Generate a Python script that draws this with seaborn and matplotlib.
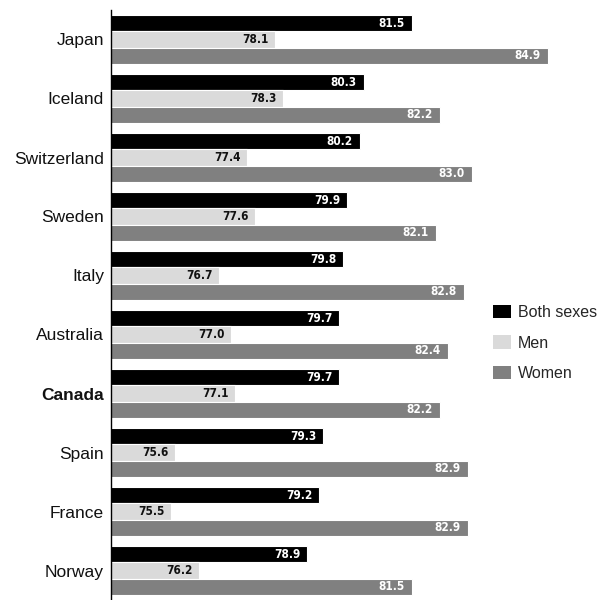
import matplotlib
matplotlib.use("Agg")
import matplotlib.pyplot as plt
from matplotlib.patches import Patch
import seaborn as sns
import pandas as pd

countries = ["Japan", "Iceland", "Switzerland", "Sweden", "Italy",
             "Australia", "Canada", "Spain", "France", "Norway"]
both_sexes = [81.5, 80.3, 80.2, 79.9, 79.8, 79.7, 79.7, 79.3, 79.2, 78.9]
men = [78.1, 78.3, 77.4, 77.6, 76.7, 77.0, 77.1, 75.6, 75.5, 76.2]
women = [84.9, 82.2, 83.0, 82.1, 82.8, 82.4, 82.2, 82.9, 82.9, 81.5]
series = ["Both sexes", "Men", "Women"]
colors = ["#000000", "#dadada", "#808080"]
label_colors = ["white", "#111111", "white"]

df = pd.DataFrame({
    "country": countries * 3,
    "group": [s for s in series for _ in countries],
    "value": both_sexes + men + women,
})

sns.set_theme(style="white")
plt.rcParams["font.family"] = ["Liberation Sans", "DejaVu Sans"]

fig = plt.figure(figsize=(6, 6), dpi=100)
ax = fig.add_axes([111 / 600, 0.0, 489 / 600, 590 / 600])

sns.barplot(data=df, y="country", x="value", hue="group", order=countries,
            hue_order=series, palette=colors, orient="h", width=0.82,
            edgecolor="white", linewidth=0.8, legend=False, ax=ax)

ax.set_xlim(74, 86.2)
ax.set_ylim(len(countries) - 0.5, -0.5)
ax.set_xlabel("")
ax.set_ylabel("")
ax.set_xticks([])
for side in ["top", "right", "bottom"]:
    ax.spines[side].set_visible(False)
ax.spines["left"].set_color("black")
ax.spines["left"].set_linewidth(1.0)
ax.tick_params(axis="y", length=0, pad=5, labelsize=12.5)
for lbl in ax.get_yticklabels():
    lbl.set_color("#111111")
    if lbl.get_text() == "Canada":
        lbl.set_fontweight("bold")

# value labels right-aligned inside each bar end
for container, tcol in zip(ax.containers, label_colors):
    for bar in container:
        w = bar.get_width()
        yc = bar.get_y() + bar.get_height() / 2
        ax.annotate(f"{w:.1f}", xy=(w, yc), xytext=(-5, 0),
                    textcoords="offset points", ha="right", va="center",
                    fontsize=8.5, fontweight="bold", color=tcol,
                    family="DejaVu Sans", fontstretch="condensed")

handles = [Patch(facecolor=c, edgecolor="none") for c in colors]
fig.legend(handles, series, loc="center left",
           bbox_to_anchor=(487 / 600, 1 - 343 / 600), frameon=False,
           fontsize=11.5, handlelength=1.1, handleheight=0.9,
           handletextpad=0.45, labelspacing=0.95, borderaxespad=0)

fig.savefig("out.png", dpi=100)
